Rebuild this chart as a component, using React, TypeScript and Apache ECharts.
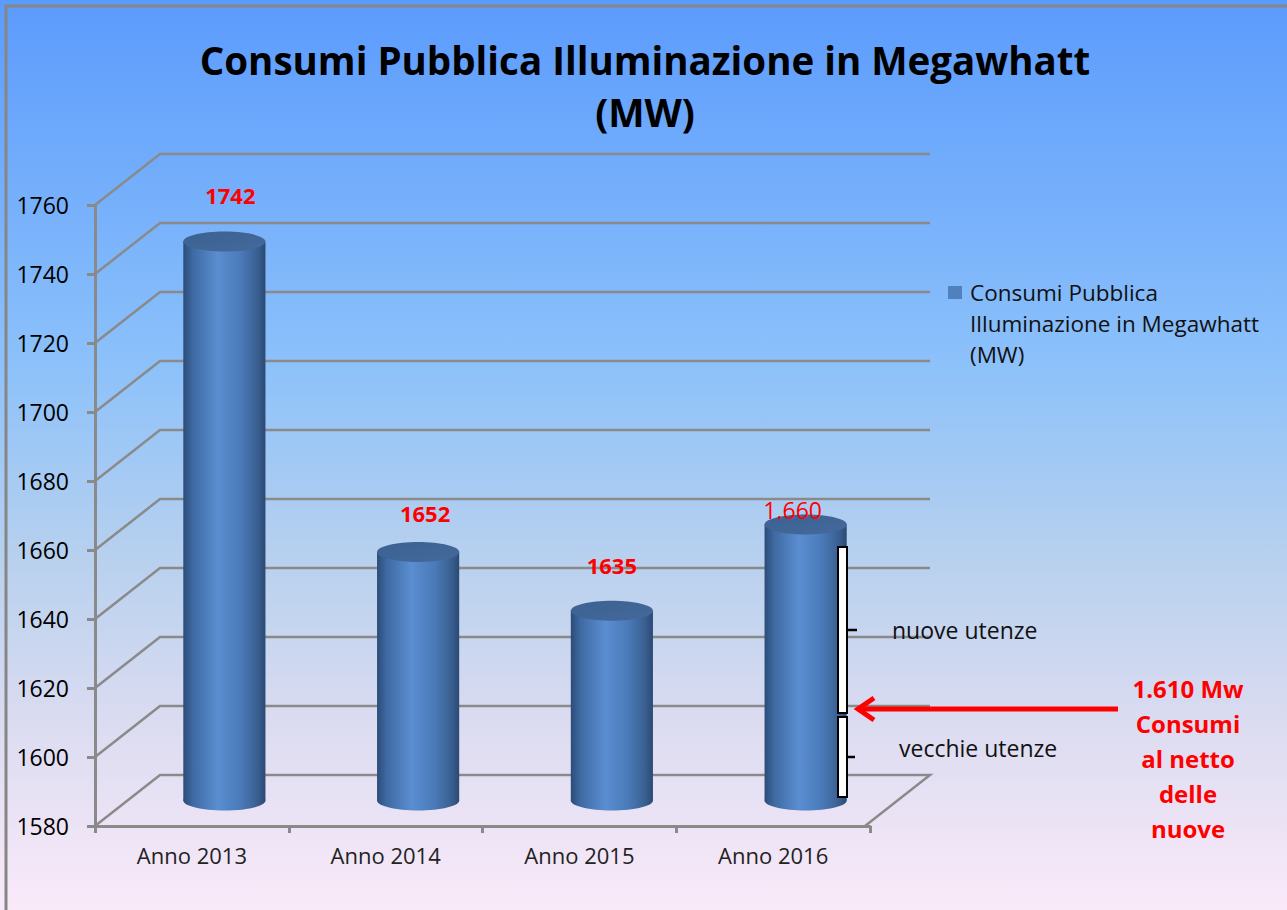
import { useEffect, useRef } from "react";
import * as echarts from "echarts";

const categories = ["Anno 2013", "Anno 2014", "Anno 2015", "Anno 2016"];
const consumi = [1742, 1652, 1635, 1660];
const valueLabels = ["1742", "1652", "1635", "1.660"];
const yTicks = [1580, 1600, 1620, 1640, 1660, 1680, 1700, 1720, 1740, 1760];
const seriesName = "Consumi Pubblica Illuminazione in Megawhatt (MW)";
const titleLines = ["Consumi Pubblica Illuminazione in Megawhatt", "(MW)"];
const legendLines = ["Consumi Pubblica", "Illuminazione in Megawhatt", "(MW)"];
const bracketLabels = ["nuove utenze", "vecchie utenze"];
const noteLines = ["1.610 Mw", "Consumi", "al netto", "delle", "nuove"];

const Y_MIN = 1580;
const Y_MAX = 1760;
const Y_STEP = 20;
const DX = 65;
const DY = 51;
const FONT = "'Open Sans', Lato, sans-serif";
const GRAY = "#8a8a8a";
const labelLift = [47, 39, 46, 15];
const labelShift = [6, 7, 0, -13];

export default function App() {
  const ref = useRef<HTMLDivElement>(null);
  useEffect(() => {
    if (!ref.current) return;
    const chart = echarts.init(ref.current, null, { renderer: "svg" });

    const bodyGrad = () =>
      new echarts.graphic.LinearGradient(0, 0, 1, 0, [
        { offset: 0, color: "#2c4c78" },
        { offset: 0.12, color: "#3f6aa3" },
        { offset: 0.42, color: "#5a8ed1" },
        { offset: 0.7, color: "#4a7ab8" },
        { offset: 0.9, color: "#3a6092" },
        { offset: 1, color: "#2b4a74" },
      ]);

    const textStyle = (o: any) => ({
      fontFamily: FONT,
      verticalAlign: "middle",
      textVerticalAlign: "middle",
      ...o,
      textAlign: o.align,
    });

    const option: any = {
      animation: false,
      backgroundColor: new echarts.graphic.LinearGradient(0, 0, 0, 1, [
        { offset: 0, color: "#5b9bfd" },
        { offset: 0.4, color: "#8cc1fa" },
        { offset: 0.62, color: "#b9d1ee" },
        { offset: 0.8, color: "#dcdcf1" },
        { offset: 1, color: "#faeaf9" },
      ]),
      grid: { left: 95, top: 205, width: 775, height: 621 },
      xAxis: {
        type: "category",
        data: categories,
        boundaryGap: true,
        axisLine: { show: true, lineStyle: { color: GRAY, width: 3 } },
        axisTick: { show: true, length: 7, lineStyle: { color: GRAY, width: 3 } },
        axisLabel: { fontSize: 22, color: "#222", fontFamily: FONT, margin: 18 },
        splitLine: { show: false },
      },
      yAxis: {
        type: "value",
        min: Y_MIN,
        max: Y_MAX,
        interval: Y_STEP,
        axisLine: { show: true, lineStyle: { color: GRAY, width: 3 } },
        axisTick: { show: true, length: 8, lineStyle: { color: GRAY, width: 3 } },
        axisLabel: {
          fontSize: 23,
          color: "#000",
          fontFamily: FONT,
          margin: 26,
          formatter: (v: number) => String(v),
        },
        splitLine: { show: false },
      },
      series: [
        {
          type: "custom",
          name: "wall",
          silent: true,
          data: yTicks.map((v) => [0, v]),
          encode: { x: 0, y: 1 },
          z: 1,
          renderItem: (params: any, api: any) => {
            const cs = params.coordSys;
            const v = api.value(1);
            const y = api.coord([0, v])[1];
            const pts: number[][] = [
              [cs.x, y],
              [cs.x + DX, y - DY],
              [cs.x + cs.width + DX - 5, y - DY],
            ];
            if (v === Y_MIN) pts.push([cs.x + cs.width - 5, y]);
            return {
              type: "polyline",
              shape: { points: pts },
              style: { stroke: GRAY, lineWidth: 2.5, fill: "none" },
            };
          },
        },
        {
          type: "custom",
          name: seriesName,
          data: consumi.map((v, i) => [i, v]),
          encode: { x: 0, y: 1 },
          z: 3,
          renderItem: (params: any, api: any) => {
            const idx = api.value(0);
            const v = api.value(1);
            const top = api.coord([idx, v]);
            const base = api.coord([idx, Y_MIN]);
            const band = api.size([1, 0])[0];
            const cx = top[0] + DX / 2;
            const topY = top[1] - DY / 2;
            const botY = base[1] - DY / 2;
            const rx = band * 0.212;
            const ry = 10;
            const i = params.dataIndex;
            return {
              type: "group",
              children: [
                {
                  type: "ellipse",
                  shape: { cx, cy: botY, rx, ry },
                  style: { fill: bodyGrad() },
                },
                {
                  type: "rect",
                  shape: { x: cx - rx, y: topY, width: rx * 2, height: botY - topY },
                  style: { fill: bodyGrad() },
                },
                {
                  type: "ellipse",
                  shape: { cx, cy: topY, rx, ry },
                  style: {
                    fill: new echarts.graphic.LinearGradient(0, 0, 1, 1, [
                      { offset: 0, color: "#3b6292" },
                      { offset: 1, color: "#44699a" },
                    ]),
                  },
                },
                {
                  type: "text",
                  style: textStyle({
                    text: valueLabels[i],
                    x: cx + labelShift[i],
                    y: topY - labelLift[i],
                    fill: "#ff0000",
                    fontSize: i === 3 ? 23 : 22,
                    fontWeight: i === 3 ? "normal" : "bold",
                    align: "center",
                  }),
                },
              ],
            };
          },
        },
      ],
      graphic: [
        {
          type: "rect",
          shape: { x: 6, y: 6, width: 1400, height: 1000 },
          style: { fill: "none", stroke: "#868686", lineWidth: 3 },
          silent: true,
          z: 10,
        },
        ...titleLines.map((t, k) => ({
          type: "text",
          style: textStyle({
            text: t,
            x: 645,
            y: 60 + k * 52,
            fill: "#000",
            fontSize: 38.5,
            fontWeight: "bold",
            align: "center",
          }),
        })),
        {
          type: "rect",
          shape: { x: 948, y: 286, width: 14, height: 13 },
          style: { fill: "#4f81bd" },
        },
        ...legendLines.map((t, k) => ({
          type: "text",
          style: textStyle({
            text: t,
            x: 970,
            y: 292 + k * 31,
            fill: "#111",
            fontSize: 22.5,
            align: "left",
          }),
        })),
        // brackets
        {
          type: "rect",
          shape: { x: 838, y: 547, width: 9, height: 166 },
          style: { fill: "#fff", stroke: "#000", lineWidth: 2 },
          z: 5,
        },
        {
          type: "line",
          shape: { x1: 847, y1: 630, x2: 857, y2: 630 },
          style: { stroke: "#000", lineWidth: 2.5 },
          z: 5,
        },
        {
          type: "rect",
          shape: { x: 838, y: 717, width: 9, height: 80 },
          style: { fill: "#fff", stroke: "#000", lineWidth: 2 },
          z: 5,
        },
        {
          type: "line",
          shape: { x1: 847, y1: 757, x2: 855, y2: 757 },
          style: { stroke: "#000", lineWidth: 2.5 },
          z: 5,
        },
        ...bracketLabels.map((t, k) => ({
          type: "text",
          style: textStyle({
            text: t,
            x: k === 0 ? 892 : 899,
            y: k === 0 ? 630 : 748,
            fill: "#111",
            fontSize: 23,
            align: "left",
          }),
          z: 5,
        })),
        // red arrow
        {
          type: "line",
          shape: { x1: 860, y1: 709, x2: 1118, y2: 709 },
          style: { stroke: "#ff0000", lineWidth: 5 },
          z: 5,
        },
        {
          type: "polyline",
          shape: { points: [[874, 698], [858, 709], [874, 720]] },
          style: { stroke: "#ff0000", lineWidth: 5, fill: "none" },
          z: 5,
        },
        ...noteLines.map((t, k) => ({
          type: "text",
          style: textStyle({
            text: t,
            x: 1188,
            y: 688 + k * 35,
            fill: "#ff0000",
            fontSize: 24,
            fontWeight: "bold",
            align: "center",
          }),
          z: 5,
        })),
      ],
    };

    chart.setOption(option);
    return () => chart.dispose();
  }, []);

  return (
    <div
      ref={ref}
      style={{ position: "fixed", left: 0, top: 0, width: 1287, height: 910 }}
    />
  );
}
